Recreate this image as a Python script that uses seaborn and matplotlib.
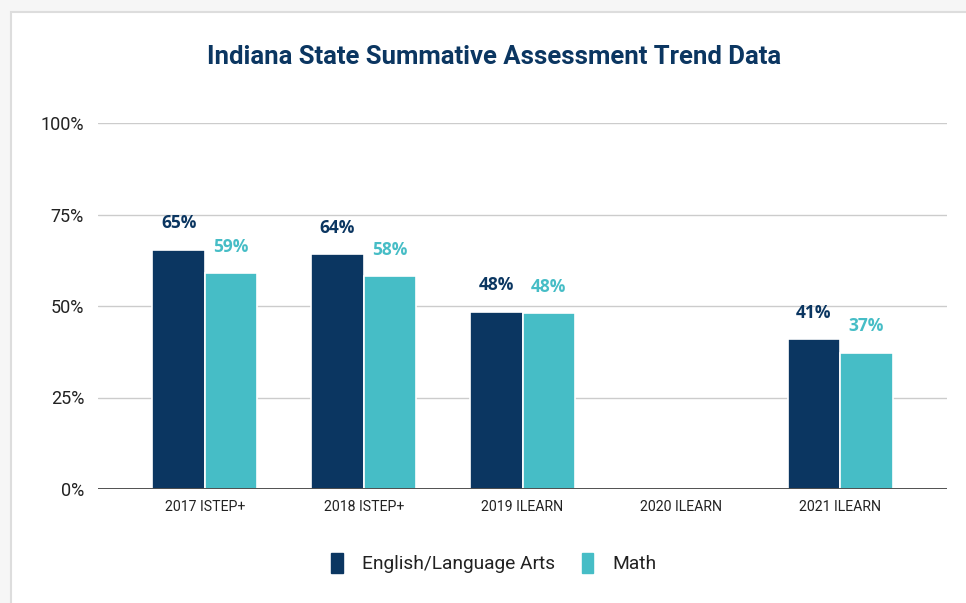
import pandas as pd
import matplotlib.pyplot as plt
import seaborn as sns
from matplotlib.patches import Rectangle

# data
years = ['2017 ISTEP+', '2018 ISTEP+', '2019 ILEARN', '2020 ILEARN', '2021 ILEARN']
ela = [65.4, 64.2, 48.4, None, 41.0]
math = [59.0, 58.2, 48.1, None, 37.2]

navy = '#0b3661'
teal = '#46bdc6'

df = pd.DataFrame({
    'Year': years * 2,
    'Subject': ['English/Language Arts'] * 5 + ['Math'] * 5,
    'Score': ela + math,
})

sns.set_style('white')
plt.rcParams['font.family'] = ['Roboto', 'DejaVu Sans']

fig = plt.figure(figsize=(9.66, 6.03), dpi=100)
fig.patch.set_facecolor('#f6f6f6')
# card background with soft edge
fig.patches.append(Rectangle((11 / 966, -0.05), 1.2, 1 - 12 / 603 + 0.05,
                             transform=fig.transFigure, facecolor='white',
                             edgecolor='#dddddd', linewidth=1.5, zorder=-5))

ax = fig.add_axes([98 / 966, 1 - 489 / 603, (947 - 98) / 966, (489 - 123) / 603])
ax.set_facecolor('none')

sns.barplot(data=df, x='Year', y='Score', hue='Subject', order=years,
            palette=[navy, teal], width=0.66, saturation=1, ax=ax, legend=False,
            zorder=3)

# value labels above each bar, coloured like the series
for container, col in zip(ax.containers, [navy, teal]):
    for bar in container:
        if bar is None or pd.isna(bar.get_height()):
            continue
        bar.set_edgecolor('white')
        bar.set_linewidth(1.2)
        h = bar.get_height()
        ax.annotate(f'{h:.0f}%', (bar.get_x() + bar.get_width() / 2, h),
                    xytext=(0, 12.5), textcoords='offset points', ha='center',
                    va='bottom', color=col, fontsize=12.5, fontweight='bold',
                    family='Open Sans')

ax.set_ylim(0, 100)
ax.set_xlim(-0.673, 4.673)
ax.set_yticks([0, 25, 50, 75, 100])
ax.set_yticklabels(['0%', '25%', '50%', '75%', '100%'], fontsize=13, color='#222222')
ax.tick_params(axis='y', length=0, pad=10)
ax.tick_params(axis='x', length=0, pad=8, labelsize=10.2, labelcolor='#222222')
ax.set_xlabel('')
ax.set_ylabel('')
for y in [25, 50, 75, 100]:
    ax.axhline(y, color='#cccccc', linewidth=1, zorder=1)
ax.axhline(0, color='#333333', linewidth=1.2, zorder=4)
sns.despine(ax=ax, left=True, bottom=True)

fig.text(494 / 966, 1 - 57 / 603, 'Indiana State Summative Assessment Trend Data',
         ha='center', va='center', fontsize=18.5, fontweight='bold', color=navy)

handles = [Rectangle((0, 0), 1, 1, color=navy), Rectangle((0, 0), 1, 1, color=teal)]
fig.legend(handles, ['English/Language Arts', 'Math'], loc='center',
           bbox_to_anchor=(494 / 966, 1 - 563 / 603), ncol=2, frameon=False,
           fontsize=13.8, handlelength=0.6, handleheight=1.2, handletextpad=1.0,
           columnspacing=1.4, labelcolor='#222222')

fig.savefig('out.png', dpi=100, facecolor=fig.get_facecolor())
